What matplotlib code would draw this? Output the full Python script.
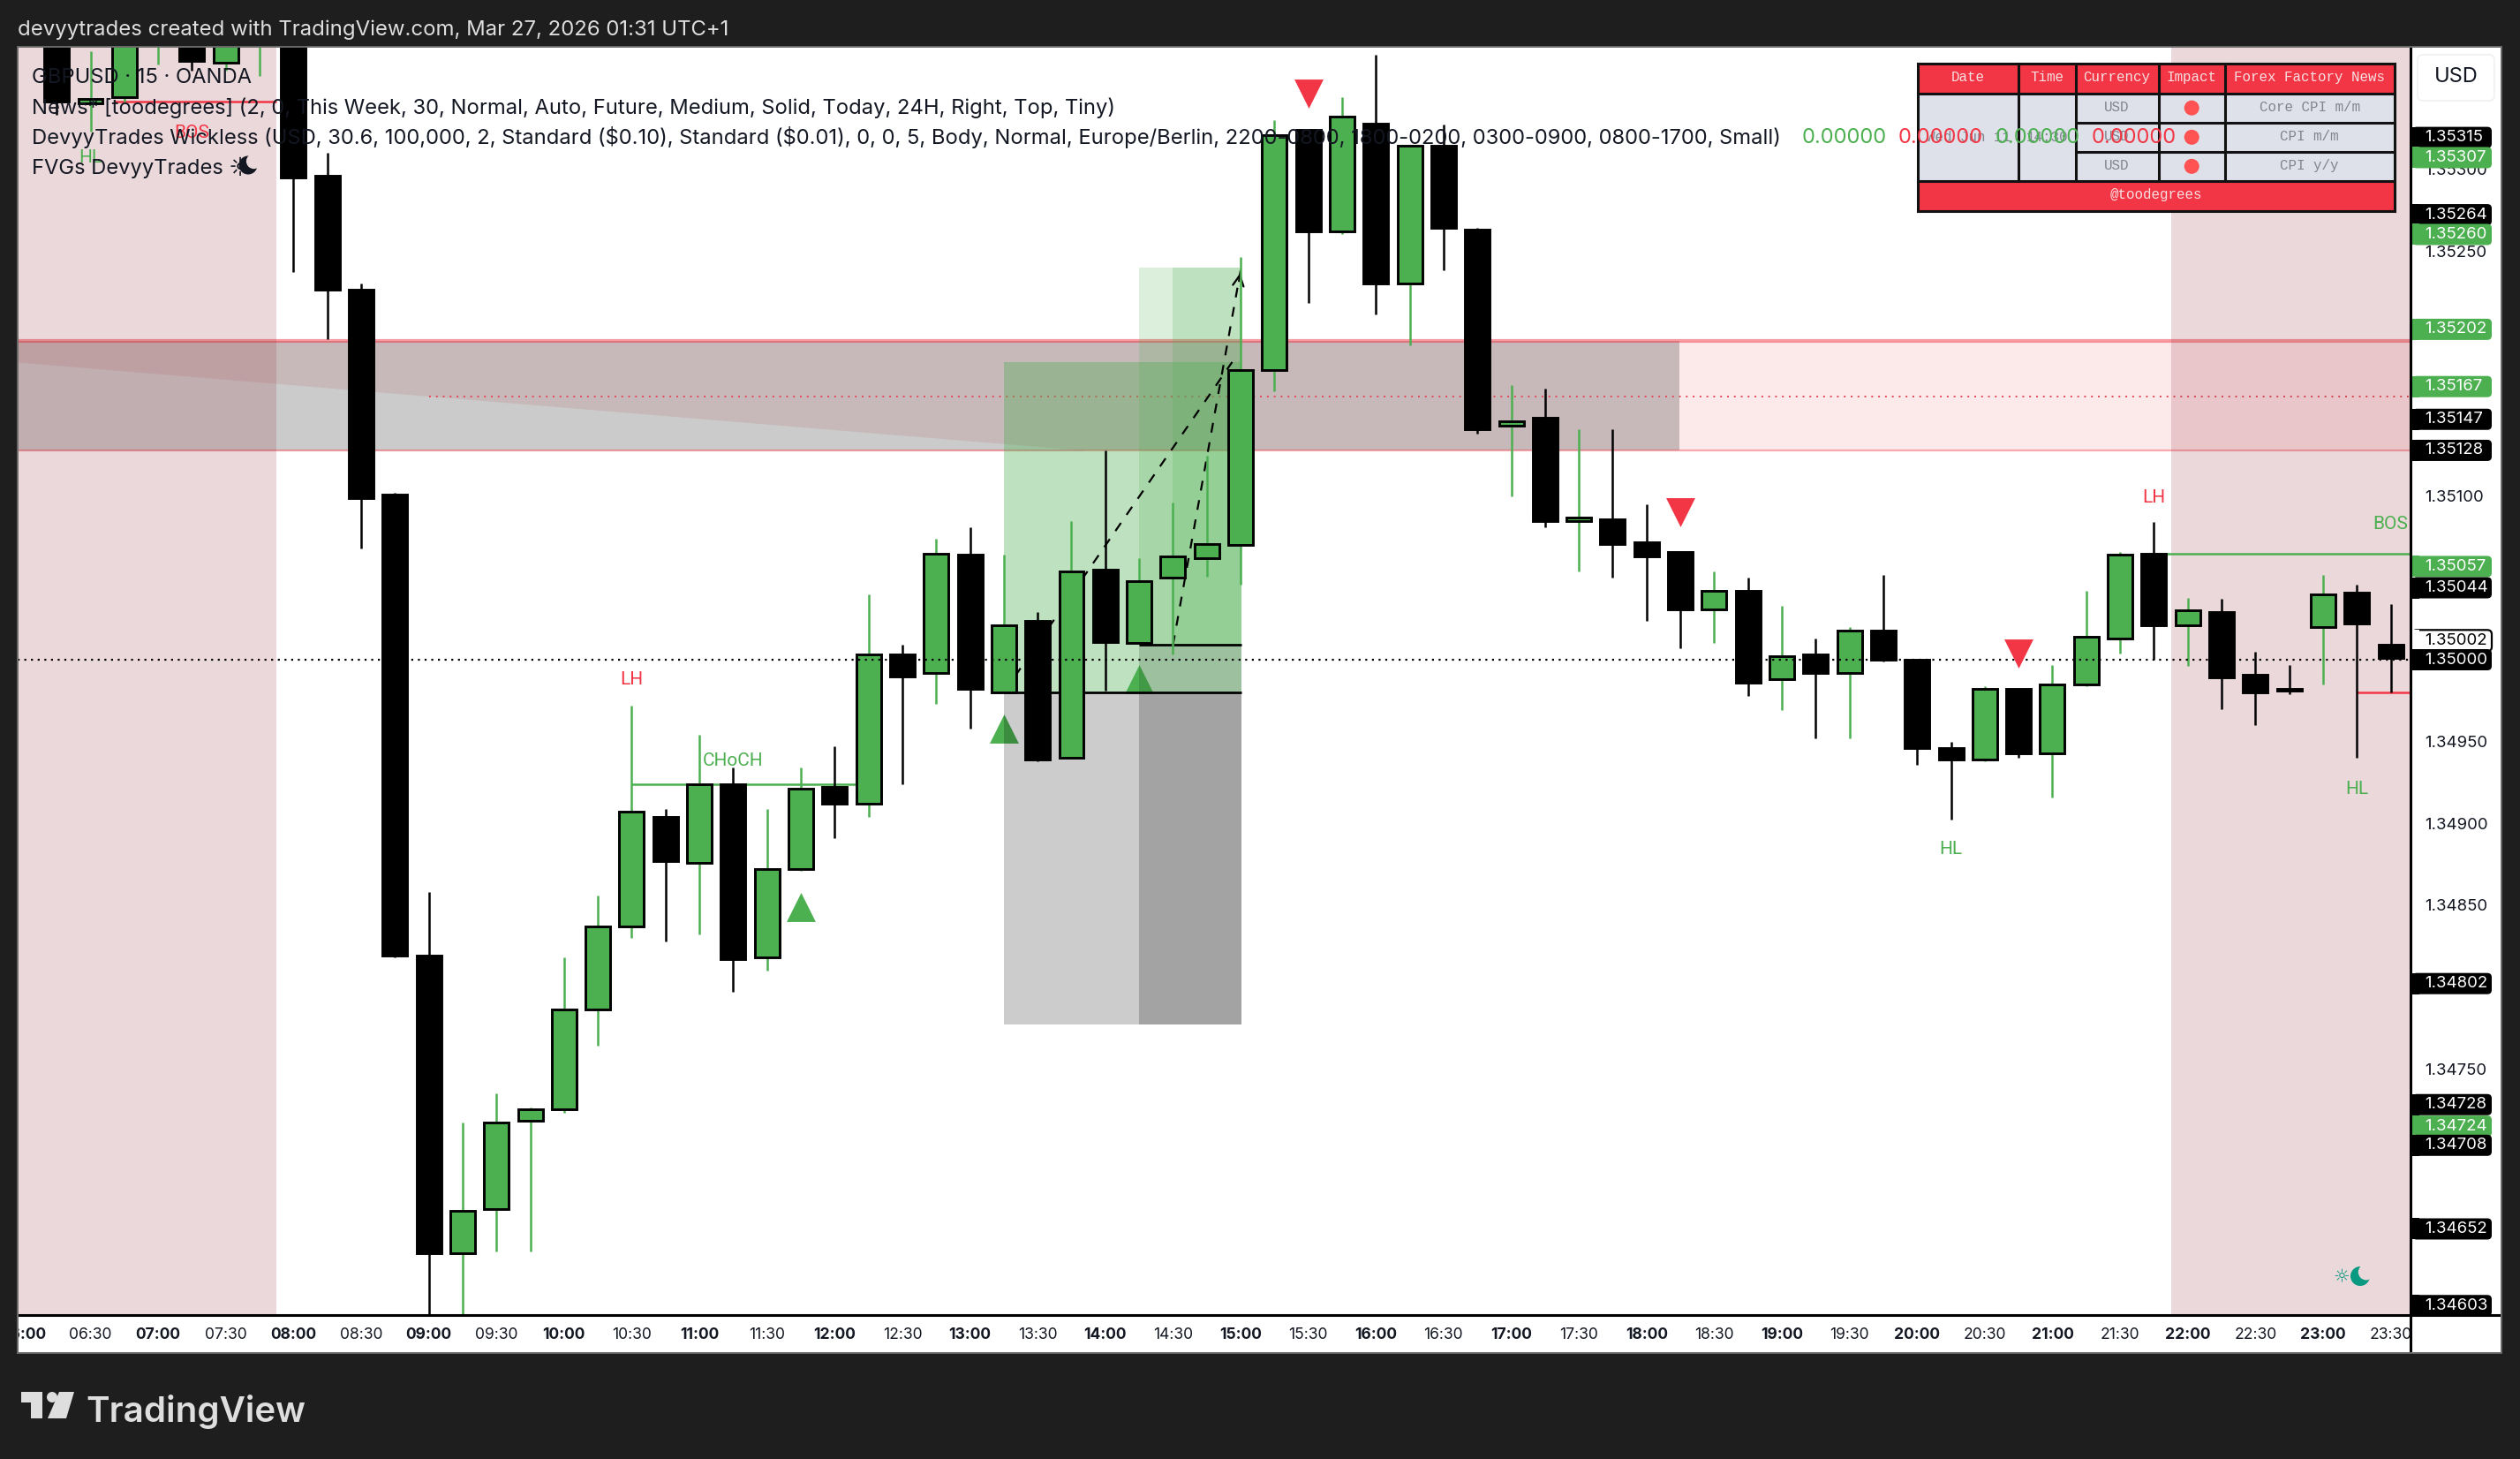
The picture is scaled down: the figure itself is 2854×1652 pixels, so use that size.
import matplotlib
matplotlib.use("Agg")
import matplotlib.pyplot as plt
from matplotlib.patches import Rectangle, FancyBboxPatch, Polygon, Circle

# ---------- data ----------
bar_index = list(range(-11, 59))
opens = [1.35420,1.35340,1.35344,1.35385,1.35400,1.35365,1.35385,1.35410,1.35296,1.35226,1.35101,
 1.34819,1.34637,1.34664,1.34718,1.34725,1.34786,1.34837,1.34904,1.34876,1.34924,1.34818,1.34872,
 1.34922,1.34912,1.35003,1.34992,1.35064,1.34980,1.35024,1.34940,1.35055,1.35010,1.35050,1.35062,
 1.35070,1.35177,1.35324,1.35262,1.35328,1.35230,1.35314,1.35263,1.35143,1.35148,1.35085,1.35086,
 1.35072,1.35066,1.35031,1.35042,1.34988,1.35003,1.34992,1.35018,1.35000,1.34946,1.34939,1.34982,
 1.34943,1.34985,1.35013,1.35065,1.35021,1.35029,1.34991,1.34982,1.35020,1.35041,1.35009]
highs = [1.35430,1.35372,1.35425,1.35440,1.35410,1.35420,1.35430,1.35420,1.35310,1.35230,1.35102,
 1.34858,1.34717,1.34735,1.34726,1.34818,1.34856,1.34972,1.34909,1.34954,1.34934,1.34909,1.34934,
 1.34947,1.35040,1.35009,1.35074,1.35081,1.35064,1.35029,1.35085,1.35128,1.35062,1.35096,1.35125,
 1.35246,1.35330,1.35324,1.35344,1.35370,1.35315,1.35327,1.35264,1.35168,1.35166,1.35141,1.35141,
 1.35095,1.35066,1.35054,1.35050,1.35033,1.35013,1.35020,1.35052,1.35000,1.34950,1.34984,1.34982,
 1.34997,1.35042,1.35066,1.35084,1.35038,1.35037,1.35005,1.34997,1.35052,1.35046,1.35034]
lows = [1.35333,1.35323,1.35341,1.35364,1.35360,1.35360,1.35357,1.35237,1.35196,1.35068,1.34818,
 1.34598,1.34600,1.34638,1.34638,1.34723,1.34764,1.34830,1.34828,1.34832,1.34797,1.34810,1.34871,
 1.34891,1.34904,1.34924,1.34973,1.34958,1.34980,1.34938,1.34940,1.34981,1.35010,1.35003,1.35051,
 1.35046,1.35164,1.35218,1.35260,1.35211,1.35192,1.35238,1.35138,1.35100,1.35081,1.35054,1.35050,
 1.35024,1.35007,1.35010,1.34978,1.34969,1.34952,1.34952,1.34999,1.34936,1.34902,1.34938,1.34940,
 1.34916,1.34984,1.35004,1.35000,1.34996,1.34970,1.34960,1.34979,1.34985,1.34940,1.34980]
closes = [1.35341,1.35343,1.35420,1.35430,1.35366,1.35410,1.35420,1.35295,1.35226,1.35099,1.34819,
 1.34637,1.34663,1.34717,1.34725,1.34786,1.34837,1.34907,1.34877,1.34924,1.34817,1.34872,1.34921,
 1.34912,1.35003,1.34990,1.35065,1.34982,1.35021,1.34939,1.35054,1.35011,1.35048,1.35063,1.35071,
 1.35177,1.35321,1.35262,1.35332,1.35230,1.35314,1.35264,1.35141,1.35146,1.35085,1.35087,1.35071,
 1.35063,1.35031,1.35042,1.34986,1.35002,1.34992,1.35018,1.35000,1.34946,1.34939,1.34982,1.34943,
 1.34985,1.35014,1.35064,1.35021,1.35030,1.34989,1.34980,1.34981,1.35040,1.35022,1.35001]
is_green = [0,1,1,1,0,1,1,0,0,0,0, 0,1,1,1,1,1,1,0,1,0,1,1, 0,1,0,1,0,1,0,1,0,1,1,1, 1,1,0,1,0,1,0,0,1,0,1,0,
 0,0,1,0,1,0,1,0,0,0,1,0, 1,1,1,0,1,0,0,0,1,0,0]

time_labels = ["06:00","06:30","07:00","07:30","08:00","08:30","09:00","09:30","10:00","10:30","11:00","11:30",
 "12:00","12:30","13:00","13:30","14:00","14:30","15:00","15:30","16:00","16:30","17:00","17:30","18:00","18:30",
 "19:00","19:30","20:00","20:30","21:00","21:30","22:00","22:30","23:00","23:30"]
time_ticks = list(range(-12, 60, 2))

plain_prices = [1.35300,1.35250,1.35100,1.34950,1.34900,1.34850,1.34750]
tag_prices = [1.35315,1.35307,1.35264,1.35260,1.35202,1.35167,1.35147,1.35128,1.35057,1.35044,1.35002,1.35000,
              1.34802,1.34728,1.34724,1.34708,1.34652,1.34603]
tag_kinds = ["k","g","k","g","g","g","k","k","g","k","w","k","k","k","g","k","k","k"]
tag_shift_px = [-8,0,-15,0,0,0,0,0,0,0,-18,0,0,0,17,9,0,-4]

session_left = (-12.2, -4.5)
session_right = (51.5, 58.7)
zone_top, zone_bottom, zone_mid = 1.35195, 1.35128, 1.35161
zone_grey_end = 36.97
wedge_start_price, wedge_end_bar = 1.35182, 19.4

long_a = (17, 24.03, 1.35182, 1.34980, 1.34777)
long_b = (21, 24.03, 1.35240, 1.35009, 1.34777)
long_c = (22, 24.03, 1.35240, 1.35009)
dash_a = ([17, 23.75], [1.34980, 1.35182])
dash_b = ([22, 24.0], [1.35009, 1.35238])

up_bars, up_prices = [11, 17, 21], [1.34849, 1.34958, 1.34988]
down_bars, down_prices = [26, 37, 47], [1.35346, 1.35090, 1.35004]

choch_bars, choch_price = (6, 13), 1.34924
bos_up_bars, bos_up_price = (51, 58.7), 1.35065
red_top_bars, red_top_price = (-9.3, -4.5), 1.35341
red_low_bars, red_low_price = (57, 58.7), 1.34980

labels_green = [("CHoCH", 9.0, 1.34938), ("HL", 45, 1.34884), ("HL", 57, 1.34921), ("BOS", 58.0, 1.35083), ("HL", -10, 1.35307)]
labels_red = [("LH", 6, 1.34988), ("LH", 51, 1.35099), ("BOS", -7, 1.35322)]

tbl_cols = ["Date", "Time", "Currency", "Impact", "Forex Factory News"]
tbl_date, tbl_time = "Wed Jun 11", "14:30"
tbl_currency = ["USD", "USD", "USD"]
tbl_events = ["Core CPI m/m", "CPI m/m", "CPI y/y"]
tbl_footer = "@toodegrees"

legend_lines = ["GBPUSD · 15 · OANDA",
 "News* [toodegrees] (2, 0, This Week, 30, Normal, Auto, Future, Medium, Solid, Today, 24H, Right, Top, Tiny)",
 "DevyyTrades Wickless (USD, 30.6, 100,000, 2, Standard (\\$0.10), Standard (\\$0.01), 0, 0, 5, Body, Normal, Europe/Berlin, 2200-0800, 1800-0200, 0300-0900, 0800-1700, Small)",
 "FVGs DevyyTrades ☼"]
legend_values = ["0.00000", "0.00000", "0.00000", "0.00000"]
title = "devyytrades created with TradingView.com, Mar 27, 2026 01:31 UTC+1"

# ---------- colours / layout ----------
GREEN, RED, DARK = "#4caf50", "#f23645", "#1e1e1e"
SESSION = (155/255, 60/255, 70/255)
PINK_BG = "#ebd8da"
TEAL = "#089981"
W, H = 2854, 1652
plt.rcParams["font.family"] = ["Inter", "DejaVu Sans"]
fig = plt.figure(figsize=(W/100, H/100), dpi=100, facecolor=DARK)

def box(x0, y0, x1, y1):
    return [x0/W, 1-y1/H, (x1-x0)/W, (y1-y0)/H]

PL, PR, PT, PB = 20, 2730, 53, 1489
bar_px, x0_px = 38.31, 485.6
px_per_unit = 1.852e5
def k_at(px): return (px-x0_px)/bar_px
def p_at(py): return 1.35+(747-py)/px_per_unit

ax = fig.add_axes(box(PL, PT, PR, PB), facecolor="white")
ax.set_xlim(k_at(PL), k_at(PR)); ax.set_ylim(p_at(PB), p_at(PT))
ax.set_xticks([]); ax.set_yticks([])
for s in ax.spines.values(): s.set_visible(False)

for a, b in (session_left, session_right):
    ax.axvspan(a, b, color=SESSION, alpha=.2, lw=0, zorder=2.5)

# supply zone
ax.axhspan(zone_bottom, zone_top, color="#fce9ea", lw=0, zorder=1)
ax.fill_between([ax.get_xlim()[0], zone_grey_end], zone_bottom, zone_top, color="#c7b8b9", lw=0, zorder=1.2)
ax.fill_between([ax.get_xlim()[0], wedge_end_bar], [wedge_start_price, zone_bottom], zone_bottom, color="#cbcbcb", lw=0, zorder=1.3)
ax.axhline(zone_top, color="#f23645", alpha=.5, lw=3, zorder=1.4)
ax.axhline(zone_bottom, color="#f23645", alpha=.4, lw=1.6, zorder=1.4)
ax.hlines(zone_mid, 0, ax.get_xlim()[1], color="#e5485a", lw=1.4, linestyles=(0, (1, 3)), zorder=1.5)

# triangles
ax.scatter(up_bars, up_prices, marker="^", s=560, color=GREEN, lw=0, zorder=2)
ax.scatter(down_bars, down_prices, marker="v", s=560, color=RED, lw=0, zorder=7)

# long / short tool boxes
for (a, b, top, mid, bot) in (long_a, long_b):
    ax.fill_between([a, b], mid, bot, color="black", alpha=.2, lw=0, zorder=3)
    ax.hlines(mid, a, b, color="black", lw=2, zorder=3.1)
ax.fill_between(long_a[:2], long_a[3], long_a[2], color=GREEN, alpha=.36, lw=0, zorder=3)
ax.fill_between(long_b[:2], long_b[3], long_b[2], color=GREEN, alpha=.2, lw=0, zorder=3)
ax.fill_between(long_c[:2], long_c[3], long_c[2], color=GREEN, alpha=.2, lw=0, zorder=3)
ax.plot(*dash_a, color="black", lw=1.6, ls=(0, (5, 5)), zorder=3.2)
ax.plot(*dash_b, color="black", lw=1.6, ls=(0, (5, 5)), zorder=3.2)
ax.annotate("", xy=(dash_b[0][1], dash_b[1][1]), xytext=(dash_b[0][1]-.06, dash_b[1][1]-.00008),
            arrowprops=dict(arrowstyle="->", lw=1.6, color="black", mutation_scale=22), zorder=3.2)

# candles
ax.axhline(1.35, color="black", lw=1.6, ls=(0, (1, 2.4)), zorder=5)
for k, o, h, l, c, g in zip(bar_index, opens, highs, lows, closes, is_green):
    col = GREEN if g else "black"
    ax.vlines(k, l, h, color=col, lw=1.8, zorder=4)
    ax.bar(k, abs(c-o), bottom=min(o, c), width=.73, facecolor=col, edgecolor="black", lw=2.1, zorder=4.2)

# structure
ax.hlines(choch_price, *choch_bars, color=GREEN, lw=1.8, zorder=3.5)
ax.hlines(bos_up_price, *bos_up_bars, color=GREEN, lw=1.8, zorder=3.5)
ax.hlines(red_top_price, *red_top_bars, color=RED, lw=1.8, zorder=3.5)
ax.hlines(red_low_price, *red_low_bars, color=RED, lw=1.8, zorder=3.5)
for t, x, y in labels_green:
    ax.text(x, y, t, color=GREEN, family="Roboto", fontsize=15, ha="center", va="center", zorder=6)
for t, x, y in labels_red:
    ax.text(x, y, t, color=RED, family="Roboto", fontsize=15, ha="center", va="center", zorder=6)

# time scale
tax = fig.add_axes(box(PL, PB, PR, 1532), facecolor="white")
tax.set_xlim(ax.get_xlim()); tax.set_yticks([])
tax.set_xticks(time_ticks, time_labels)
tax.tick_params(axis="x", length=0, pad=-21, labelsize=12.6, colors="#131722")
for lab, t in zip(tax.get_xticklabels(), time_labels):
    if t.endswith(":00"):
        lab.set_fontweight("bold")
    lab.set_clip_on(True); lab.set_clip_box(tax.bbox)
for s in tax.spines.values(): s.set_visible(False)

# price scale
rax = fig.add_axes(box(PR, PT, 2833, 1532), facecolor="white")
rax.set_xticks([]); rax.set_yticks([])
for s in rax.spines.values(): s.set_visible(False)
pax = fig.add_axes(box(PR, PT, 2833, PB), facecolor="none")
pax.set_ylim(ax.get_ylim()); pax.set_xticks([]); pax.yaxis.tick_right()
pax.set_yticks(plain_prices, [f"{v:.5f}" for v in plain_prices])
pax.tick_params(axis="y", right=False, direction="in", pad=-62.6, labelsize=13.4, labelcolor="#131722")
for lab in pax.get_yticklabels(): lab.set_ha("left")
for s in pax.spines.values(): s.set_visible(False)

# overlay in pixels for chrome
ov = fig.add_axes([0, 0, 1, 1], facecolor="none")
ov.set_xlim(0, W); ov.set_ylim(H, 0); ov.axis("off")
fig.canvas.draw()

for v, kind, sh in zip(tag_prices, tag_kinds, tag_shift_px):
    yc = H - ax.transData.transform((0, v))[1] + sh
    fc = {"k": "black", "g": GREEN, "w": "white"}[kind]
    tc = "black" if kind == "w" else "white"
    ov.add_patch(FancyBboxPatch((PR+7, yc-7), 80, 14, boxstyle="round,pad=5,rounding_size=5", fc=fc, ec="black" if kind == "w" else fc, lw=1.6 if kind == "w" else 0, zorder=3))
    ov.add_patch(Rectangle((PR, yc-12), 10, 24, fc=fc, lw=0, zorder=3))
    ov.text(2746, yc, f"{v:.5f}", color=tc, fontsize=13.4, ha="left", va="center", zorder=4)

# borders
ov.plot([PL, 2833], [PB, PB], color="black", lw=2.2, zorder=5, solid_capstyle="butt")
ov.plot([PR, PR], [PT, 1532], color="black", lw=2.2, zorder=5, solid_capstyle="butt")
ov.add_patch(Rectangle((PL, PT), 2833-PL, 1532-PT, fc="none", ec="#6a6a6a", lw=1.4, zorder=5))

# USD box
ov.add_patch(FancyBboxPatch((2744, 68), 75, 40, boxstyle="round,pad=6,rounding_size=6", fc="white", ec="#f0f0f0", lw=1.2, zorder=3))
ov.text(2782, 87, "USD", fontsize=17, color="#131722", ha="center", va="center", zorder=4)

# table
col_x = [2172, 2286, 2350.5, 2444.7, 2519.7, 2711.5]
row_y = [72, 105.7, 138.7, 172, 204.7, 238.7]
MONO = "Liberation Mono"
ov.add_patch(Rectangle((col_x[0], row_y[0]), col_x[-1]-col_x[0], row_y[-1]-row_y[0], fc="#dee1e9", lw=0, zorder=6))
ov.add_patch(Rectangle((col_x[0], row_y[0]), col_x[-1]-col_x[0], row_y[1]-row_y[0], fc=RED, lw=0, zorder=6))
ov.add_patch(Rectangle((col_x[0], row_y[4]), col_x[-1]-col_x[0], row_y[5]-row_y[4], fc=RED, lw=0, zorder=6))
for x in col_x:
    ov.plot([x, x], [row_y[0], row_y[4] if x not in (col_x[0], col_x[-1]) else row_y[5]], color="#111111", lw=2.2, zorder=7, solid_capstyle="projecting")
for i, y in enumerate(row_y):
    a = col_x[2] if i in (2, 3) else col_x[0]
    ov.plot([a, col_x[-1]], [y, y], color="#111111", lw=2.2, zorder=7, solid_capstyle="projecting")
for i, t in enumerate(tbl_cols):
    ov.text((col_x[i]+col_x[i+1])/2, (row_y[0]+row_y[1])/2-1, t, family=MONO, fontsize=11.4, color="#f7dfe1", ha="center", va="center", zorder=8)
for i in range(3):
    yc = (row_y[i+1]+row_y[i+2])/2 - 1
    ov.text((col_x[2]+col_x[3])/2, yc, tbl_currency[i], family=MONO, fontsize=11.4, color="#81848e", ha="center", va="center", zorder=8)
    ov.text((col_x[4]+col_x[5])/2, yc, tbl_events[i], family=MONO, fontsize=11.4, color="#81848e", ha="center", va="center", zorder=8)
    ov.add_patch(Circle(((col_x[3]+col_x[4])/2, yc+1), 8.5, fc="#ff5252", lw=0, zorder=8))
yc = (row_y[2]+row_y[3])/2
ov.text((col_x[0]+col_x[1])/2, yc, tbl_date, family=MONO, fontsize=11.4, color="#81848e", ha="center", va="center", zorder=8)
ov.text((col_x[1]+col_x[2])/2, yc, tbl_time, family=MONO, fontsize=11.4, color="#81848e", ha="center", va="center", zorder=8)
ov.text((col_x[0]+col_x[-1])/2, (row_y[4]+row_y[5])/2-1, tbl_footer, family=MONO, fontsize=11.4, color="#f7dfe1", ha="center", va="center", zorder=8)

# legend
for t, y in zip(legend_lines, [88, 122, 156, 190]):
    ov.text(36, y, t, fontsize=17.1, color="#131722", ha="left", va="center", zorder=9)
for t, x, c in zip(legend_values, [2041, 2150, 2260, 2369], [GREEN, RED, GREEN, RED]):
    ov.text(x, 156, t, fontsize=17.1, color=c, ha="left", va="center", zorder=9)

def moon(x, y, r, fc, bg):
    ov.add_patch(Circle((x, y), r, fc=fc, lw=0, zorder=9))
    ov.add_patch(Circle((x+r*.62, y-r*.42), r*.82, fc=bg, lw=0, zorder=9.1))
moon(281, 187, 10.5, "#131722", PINK_BG)
moon(2673, 1445, 11, TEAL, PINK_BG)
ov.text(2652, 1445, "☼", color=TEAL, family="DejaVu Sans", fontsize=15, ha="center", va="center", zorder=9)

# title + logo
ov.text(20, 34, title, fontsize=17.25, color="#dedede", ha="left", va="center")
LOGO = "#dedede"
ov.add_patch(Polygon([(24,1576),(48,1576),(48,1606),(35,1606),(35,1588),(24,1588)], fc=LOGO, lw=0))
ov.add_patch(Circle((59,1582), 6, fc=LOGO, lw=0))
ov.add_patch(Polygon([(67,1576),(84,1576),(75,1606),(54,1606)], fc=LOGO, lw=0))
ov.text(97, 1598, "TradingView", fontsize=29, color=LOGO, fontweight="semibold", ha="left", va="center")

fig.savefig("out.png", dpi=100, facecolor=DARK)
